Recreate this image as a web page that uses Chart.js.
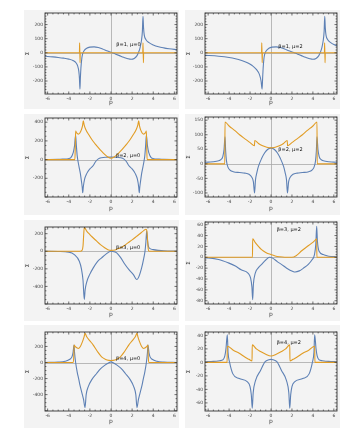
<!DOCTYPE html>
<html><head><meta charset="utf-8">
<script src="https://cdn.jsdelivr.net/npm/chart.js@4.4.1/dist/chart.umd.min.js"></script>
<style>
body{margin:0;background:#fff;width:359px;height:441px;overflow:hidden;position:relative}
.panel{position:absolute;background:#f3f3f3}
canvas{display:block}
</style></head><body>
<script>
const xTicks = [-6,-4,-2,0,2,4,6];

// Panel 1: beta=1, mu=0
const p1Label = "β=1, μ=0";
const p1YTicks = [-200,-100,0,100,200];
const p1Blue = [[-6.25,-24],[-6,-26],[-5.5,-29],[-5,-33],[-4.5,-38],[-4,-45],[-3.6,-55],[-3.3,-72],[-3.15,-95],[-3.05,-130],[-2.99,-180],[-2.94,-258],[-2.9,-180],[-2.85,-110],[-2.78,-50],[-2.7,-12],[-2.55,15],[-2.3,32],[-2.0,40],[-1.6,42],[-1.2,37],[-0.8,27],[-0.4,15],[0,4],[0.4,-8],[0.8,-20],[1.2,-32],[1.6,-42],[1.9,-46],[2.2,-40],[2.45,-22],[2.6,2],[2.75,35],[2.88,85],[2.97,150],[3.03,258],[3.08,180],[3.15,125],[3.3,95],[3.6,72],[4.0,56],[4.5,43],[5,35],[5.5,29],[6,24],[6.25,22]];
const p1Orange = [[-6.25,0],[-2.99,0],[-2.97,70],[-2.93,-70],[-2.91,0],[3.01,0],[3.03,70],[3.07,-70],[3.09,0],[6.25,0]];

// Panel 2: beta=1, mu=2
const p2Label = "β=1, μ=2";
const p2YTicks = [-200,-100,0,100,200];
const p2Blue = [[-6.3,-18],[-6,-19],[-5,-24],[-4,-33],[-3.4,-42],[-2.8,-55],[-2.2,-72],[-1.8,-90],[-1.4,-118],[-1.1,-155],[-0.95,-200],[-0.85,-258],[-0.8,-180],[-0.75,-110],[-0.68,-45],[-0.6,-10],[-0.45,15],[-0.2,32],[0.1,40],[0.5,42],[0.9,37],[1.3,27],[1.7,15],[2.1,4],[2.5,-8],[2.9,-20],[3.3,-32],[3.7,-42],[4.0,-46],[4.3,-40],[4.55,-22],[4.7,2],[4.85,35],[4.98,85],[5.07,150],[5.13,258],[5.18,180],[5.25,125],[5.4,95],[5.7,72],[6.0,58],[6.3,50]];
const p2Orange = [[-6.3,0],[-0.9,0],[-0.88,70],[-0.84,-70],[-0.82,0],[5.1,0],[5.12,70],[5.16,-70],[5.18,0],[6.3,0]];

// Panel 3: beta=2, mu=0
const p3Label = "β=2, μ=0";
const p3YTicks = [-200,0,200,400];
const p3Blue = [[-6.25,1],[-5,3],[-4.5,6],[-4.05,10],[-3.8,22],[-3.57,78],[-3.45,150],[-3.35,260],[-3.28,150],[-3.2,40],[-3.12,-20],[-3.02,-80],[-2.9,-150],[-2.8,-230],[-2.72,-300],[-2.68,-355],[-2.62,-290],[-2.5,-210],[-2.3,-150],[-2.0,-100],[-1.68,-63],[-1.45,-20],[-1.2,8],[-0.9,20],[-0.5,25],[0,26],[0.5,25],[0.9,20],[1.2,8],[1.45,-20],[1.68,-63],[2.0,-100],[2.3,-150],[2.5,-210],[2.62,-290],[2.68,-355],[2.72,-300],[2.8,-230],[2.9,-150],[3.02,-80],[3.12,-20],[3.2,40],[3.28,150],[3.35,260],[3.45,150],[3.57,78],[3.8,22],[4.05,10],[4.5,6],[5,3],[6.25,1]];
const p3Orange = [[-6.25,0],[-3.42,0],[-3.38,150],[-3.35,305],[-3.25,285],[-3.1,272],[-2.95,285],[-2.8,320],[-2.7,360],[-2.62,415],[-2.55,375],[-2.4,325],[-2.1,265],[-1.8,212],[-1.5,168],[-1.2,127],[-0.9,90],[-0.6,56],[-0.3,28],[0,15],[0.3,28],[0.6,56],[0.9,90],[1.2,127],[1.5,168],[1.8,212],[2.1,265],[2.4,325],[2.55,375],[2.62,415],[2.7,360],[2.8,320],[2.95,285],[3.1,272],[3.25,285],[3.35,305],[3.38,150],[3.42,0],[6.25,0]];

// Panel 4: beta=2, mu=2
const p4Label = "β=2, μ=2";
const p4YTicks = [-100,-50,0,50,100,150];
const p4Blue = [[-6.3,5],[-6,6],[-5.5,7],[-5.2,9],[-4.8,14],[-4.6,25],[-4.48,50],[-4.39,93],[-4.33,45],[-4.25,10],[-4.1,-12],[-3.9,-22],[-3.6,-27],[-3.0,-30],[-2.5,-32],[-2.1,-36],[-1.85,-45],[-1.68,-62],[-1.57,-100],[-1.48,-55],[-1.35,-30],[-1.2,-9],[-0.9,18],[-0.6,38],[-0.3,50],[0,54],[0.3,50],[0.6,38],[0.9,18],[1.2,-9],[1.35,-30],[1.48,-55],[1.57,-100],[1.68,-62],[1.85,-45],[2.1,-36],[2.5,-32],[3.0,-30],[3.6,-27],[3.9,-22],[4.1,-12],[4.25,10],[4.33,45],[4.39,93],[4.48,50],[4.6,25],[4.8,14],[5.2,9],[5.5,7],[6,6],[6.3,5]];
const p4Orange = [[-6.3,0],[-4.41,0],[-4.39,144],[-4.0,130],[-3.44,114],[-3.0,100],[-2.49,86],[-2.0,73],[-1.58,62],[-1.55,80],[-1.2,70],[-0.8,62],[-0.4,57],[0,55],[0.4,57],[0.8,62],[1.2,70],[1.55,80],[1.58,62],[2.0,73],[2.49,86],[3.0,100],[3.44,114],[4.0,130],[4.39,144],[4.41,0],[6.3,0]];

// Panel 5: beta=3, mu=0
const p5Label = "β=3, μ=0";
const p5YTicks = [-400,-200,0,200];
const p5Blue = [[-6.25,0],[-5,-3],[-4,-10],[-3.47,-38],[-3.0,-113],[-2.8,-200],[-2.65,-330],[-2.53,-548],[-2.45,-440],[-2.3,-350],[-2.0,-260],[-1.68,-189],[-1.3,-120],[-0.89,-75],[-0.5,-35],[0,0],[0.3,-5],[0.54,-19],[0.9,-70],[1.33,-151],[1.7,-210],[2.12,-265],[2.43,-322],[2.6,-300],[2.9,-189],[3.1,-80],[3.22,0],[3.3,100],[3.38,230],[3.45,130],[3.54,57],[3.7,30],[4.0,19],[4.5,10],[5,5],[6.25,1]];
const p5Orange = [[-6.25,0],[-2.9,0],[-2.75,10],[-2.65,60],[-2.58,200],[-2.53,272],[-2.3,230],[-2.0,190],[-1.8,165],[-1.4,120],[-1.0,76],[-0.6,40],[-0.3,18],[0,10],[0.4,15],[0.8,35],[1.17,57],[1.6,95],[2.0,130],[2.43,170],[2.8,205],[3.1,235],[3.3,250],[3.38,240],[3.45,150],[3.52,30],[3.6,0],[6.25,0]];

// Panel 6: beta=3, mu=2
const p6Label = "β=3, μ=2";
const p6YTicks = [-80,-60,-40,-20,0,20,40,60];
const p6Blue = [[-6.3,-1],[-6,-1],[-5,-4],[-4.1,-10],[-3.4,-16],[-2.85,-23],[-2.2,-29],[-1.95,-38],[-1.82,-55],[-1.75,-78],[-1.68,-50],[-1.5,-29],[-1.2,-19],[-0.9,-13],[-0.5,-5],[-0.15,0],[0.2,-2],[0.6,-8],[1.0,-13],[1.5,-20],[2.1,-26],[2.3,-27],[2.7,-25],[3.1,-20],[3.56,-13],[3.9,-5],[4.15,5],[4.28,25],[4.36,57],[4.43,30],[4.59,11],[5.0,5],[5.5,2],[6.3,1]];
const p6Orange = [[-6.3,0],[-1.77,0],[-1.75,34],[-1.5,27],[-1.2,20],[-0.9,14],[-0.5,9],[0,5],[0.4,2.5],[0.8,1],[1.3,0],[2.0,0],[2.4,3],[2.93,12],[3.4,19],[3.89,26],[4.3,33],[4.36,34],[4.38,0],[6.3,0]];

// Panel 7: beta=4, mu=0
const p7Label = "β=4, μ=0";
const p7YTicks = [-400,-200,0,200];
const p7Blue = [[-6.25,0],[-5,5],[-4.35,15],[-3.9,40],[-3.7,70],[-3.6,120],[-3.5,217],[-3.45,120],[-3.35,0],[-3.2,-120],[-3.05,-210],[-2.94,-283],[-2.75,-380],[-2.6,-460],[-2.46,-562],[-2.35,-400],[-2.15,-300],[-1.8,-210],[-1.36,-137],[-1.0,-80],[-0.57,-33],[-0.2,-2],[0,8],[0.2,-2],[0.57,-33],[1.0,-80],[1.36,-137],[1.8,-210],[2.15,-300],[2.35,-400],[2.46,-562],[2.6,-460],[2.75,-380],[2.94,-283],[3.05,-210],[3.2,-120],[3.35,0],[3.45,120],[3.5,217],[3.6,120],[3.7,70],[3.9,40],[4.35,15],[5,5],[6.25,0]];
const p7Orange = [[-6.25,0],[-3.58,0],[-3.52,100],[-3.5,217],[-3.4,200],[-3.2,180],[-3.1,175],[-2.9,200],[-2.7,260],[-2.55,320],[-2.46,363],[-2.3,320],[-2.0,270],[-1.68,217],[-1.3,140],[-0.89,70],[-0.5,38],[-0.2,27],[0,25],[0.2,27],[0.5,38],[0.89,70],[1.3,140],[1.68,217],[2.0,270],[2.3,320],[2.46,363],[2.55,320],[2.7,260],[2.9,200],[3.1,175],[3.2,180],[3.4,200],[3.5,217],[3.52,100],[3.58,0],[6.25,0]];

// Panel 8: beta=4, mu=2
const p8Label = "β=4, μ=2";
const p8YTicks = [-60,-40,-20,0,20,40];
const p8Blue = [[-6.3,1],[-5.5,1.5],[-4.9,2.5],[-4.57,4],[-4.4,10],[-4.3,20],[-4.17,41],[-4.1,15],[-3.95,0],[-3.64,-17],[-3.03,-24],[-2.25,-29],[-2.0,-36],[-1.88,-48],[-1.79,-68],[-1.7,-45],[-1.48,-27],[-1.0,-12],[-0.56,1],[-0.2,4],[0,4.5],[0.2,4],[0.56,1],[1.0,-12],[1.48,-27],[1.7,-45],[1.79,-68],[1.88,-48],[2.0,-36],[2.25,-29],[3.03,-24],[3.64,-17],[3.95,0],[4.1,15],[4.17,41],[4.3,20],[4.4,10],[4.57,4],[4.9,2.5],[5.5,1.5],[6.3,1]];
const p8Orange = [[-6.3,0],[-4.19,0],[-4.17,24],[-3.6,18],[-3.03,13.5],[-2.5,8],[-2.1,4.5],[-1.81,2],[-1.79,26],[-1.4,20],[-1.0,16],[-0.5,12],[0,9.5],[0.5,12],[1.0,16],[1.4,20],[1.79,26],[1.81,2],[2.1,4.5],[2.5,8],[3.03,13.5],[3.6,18],[4.17,24],[4.19,0],[6.3,0]];

const BLUE = '#5E81B5', ORANGE = '#E19C24';
const FONT = "'DejaVu Sans', sans-serif";

const panels = [
 {label:p1Label, yTicks:p1YTicks, blue:p1Blue, orange:p1Orange, yMin:-292, yMax:282, xr:6.25, yMinor:20, box:[24,10,155,99], frame:[45,13,177,94], lab:[0.5,58]},
 {label:p2Label, yTicks:p2YTicks, blue:p2Blue, orange:p2Orange, yMin:-292, yMax:282, xr:6.3, yMinor:20, box:[185,10,155,99], frame:[205,13,337,94], lab:[0.7,40]},
 {label:p3Label, yTicks:p3YTicks, blue:p3Blue, orange:p3Orange, yMin:-400, yMax:445, xr:6.25, yMinor:50, box:[24,114,155,101], frame:[45,118,177,197], lab:[0.47,42]},
 {label:p4Label, yTicks:p4YTicks, blue:p4Blue, orange:p4Orange, yMin:-114, yMax:161, xr:6.3, yMinor:10, box:[185,114,155,101], frame:[205,117,337,197], lab:[0.7,48]},
 {label:p5Label, yTicks:p5YTicks, blue:p5Blue, orange:p5Orange, yMin:-600, yMax:276, xr:6.25, yMinor:50, box:[24,220,155,101], frame:[45,227,177,304], lab:[0.47,39]},
 {label:p6Label, yTicks:p6YTicks, blue:p6Blue, orange:p6Orange, yMin:-86, yMax:65, xr:6.3, yMinor:5, box:[185,220,155,101], frame:[205,222,337,304], lab:[0.54,51]},
 {label:p7Label, yTicks:p7YTicks, blue:p7Blue, orange:p7Orange, yMin:-604, yMax:380, xr:6.25, yMinor:50, box:[24,325,155,103], frame:[45,332,177,411], lab:[0.47,50]},
 {label:p8Label, yTicks:p8YTicks, blue:p8Blue, orange:p8Orange, yMin:-72, yMax:45, xr:6.3, yMinor:5, box:[185,325,155,103], frame:[205,332,337,411], lab:[0.54,29]}
];

const framePlugin = {
  id: 'frame',
  beforeDatasetsDraw(chart){
    const {ctx, chartArea:a, scales:{x,y}} = chart;
    const x0 = Math.round(x.getPixelForValue(0))+0.5, y0 = Math.round(y.getPixelForValue(0))+0.5;
    ctx.save();
    ctx.strokeStyle = '#a8a8a8'; ctx.lineWidth = 0.8;
    ctx.beginPath();
    ctx.moveTo(x0,a.top); ctx.lineTo(x0,a.bottom);
    ctx.moveTo(a.left,y0); ctx.lineTo(a.right,y0);
    ctx.stroke();
    ctx.restore();
  },
  afterDatasetsDraw(chart){
    const P = chart.options.plugins.frame.P;
    const {ctx, chartArea:a, scales:{x,y}} = chart;
    ctx.save();
    ctx.strokeStyle = '#333'; ctx.lineWidth = 0.9;
    ctx.strokeRect(a.left, a.top, a.right-a.left, a.bottom-a.top);
    ctx.lineWidth = 0.7;
    ctx.beginPath();
    // x ticks
    for (let v = -6; v <= 6.001; v += 0.5) {
      const px = x.getPixelForValue(v);
      const major = Math.abs(v/2 - Math.round(v/2)) < 1e-6;
      const L = major ? 2.5 : 1.4;
      ctx.moveTo(px, a.bottom); ctx.lineTo(px, a.bottom-L);
      ctx.moveTo(px, a.top); ctx.lineTo(px, a.top+L);
    }
    // y ticks
    const step = P.yTicks[1]-P.yTicks[0];
    const start = Math.ceil(P.yMin/P.yMinor)*P.yMinor;
    for (let v = start; v <= P.yMax; v += P.yMinor) {
      const py = y.getPixelForValue(v);
      const major = Math.abs(v/step - Math.round(v/step)) < 1e-6;
      const L = major ? 2.5 : 1.4;
      ctx.moveTo(a.left, py); ctx.lineTo(a.left+L, py);
      ctx.moveTo(a.right, py); ctx.lineTo(a.right-L, py);
    }
    ctx.stroke();
    ctx.fillStyle = '#111';
    ctx.font = "5px " + FONT;
    ctx.textBaseline = 'middle'; ctx.textAlign = 'left';
    ctx.fillText(P.label, x.getPixelForValue(P.lab[0]), y.getPixelForValue(P.lab[1]));
    ctx.restore();
  }
};

panels.forEach(P => {
  const [gx,gy,gw,gh] = P.box;
  const [fl,ft,fr,fb] = P.frame;
  const div = document.createElement('div');
  div.className = 'panel';
  div.style.left = gx+'px'; div.style.top = gy+'px';
  div.style.width = gw+'px'; div.style.height = gh+'px';
  const cv = document.createElement('canvas');
  cv.width = gw; cv.height = gh;
  cv.style.width = gw+'px'; cv.style.height = gh+'px';
  div.appendChild(cv);
  document.body.appendChild(div);
  new Chart(cv, {
    type: 'line',
    data: { datasets: [
      {data: P.orange, borderColor: ORANGE, borderWidth: 1.1, order: 1},
      {data: P.blue, borderColor: BLUE, borderWidth: 1.1, order: 2}
    ]},
    options: {
      responsive: false, animation: false, devicePixelRatio: 1,
      layout: {padding: {top: ft-gy, right: (gx+gw)-fr, left: 0, bottom: 0}},
      elements: {point: {radius: 0}, line: {cubicInterpolationMode: 'monotone'}},
      plugins: {legend: {display: false}, tooltip: {enabled: false}, frame: {P}},
      scales: {
        x: {
          type: 'linear', min: -P.xr, max: P.xr,
          grid: {display: false, drawTicks: false}, border: {display: false},
          afterBuildTicks: s => { s.ticks = xTicks.map(v => ({value: v})); },
          afterFit: s => { s.height = (gy+gh)-fb; s.paddingLeft = 0; s.paddingRight = 0; },
          ticks: {font: {size: 4.5, family: FONT}, color: '#444', padding: 2.5, maxRotation: 0, autoSkip: false, callback: v => String(v)},
          title: {display: true, text: 'p', font: {size: 6, family: FONT}, color: '#444', padding: {top: 0, bottom: 3}}
        },
        y: {
          type: 'linear', min: P.yMin, max: P.yMax,
          grid: {display: false, drawTicks: false}, border: {display: false},
          afterBuildTicks: s => { s.ticks = P.yTicks.map(v => ({value: v})); },
          afterFit: s => { s.width = fl-gx; s.paddingTop = 0; s.paddingBottom = 0; },
          ticks: {font: {size: 4.5, family: FONT}, color: '#444', padding: 2, autoSkip: false, callback: v => String(v)},
          title: {display: true, text: 'Σ', font: {size: 5.5, family: FONT}, color: '#444', padding: {top: 0, bottom: 0}}
        }
      }
    },
    plugins: [framePlugin]
  });
});
</script>
</body></html>
